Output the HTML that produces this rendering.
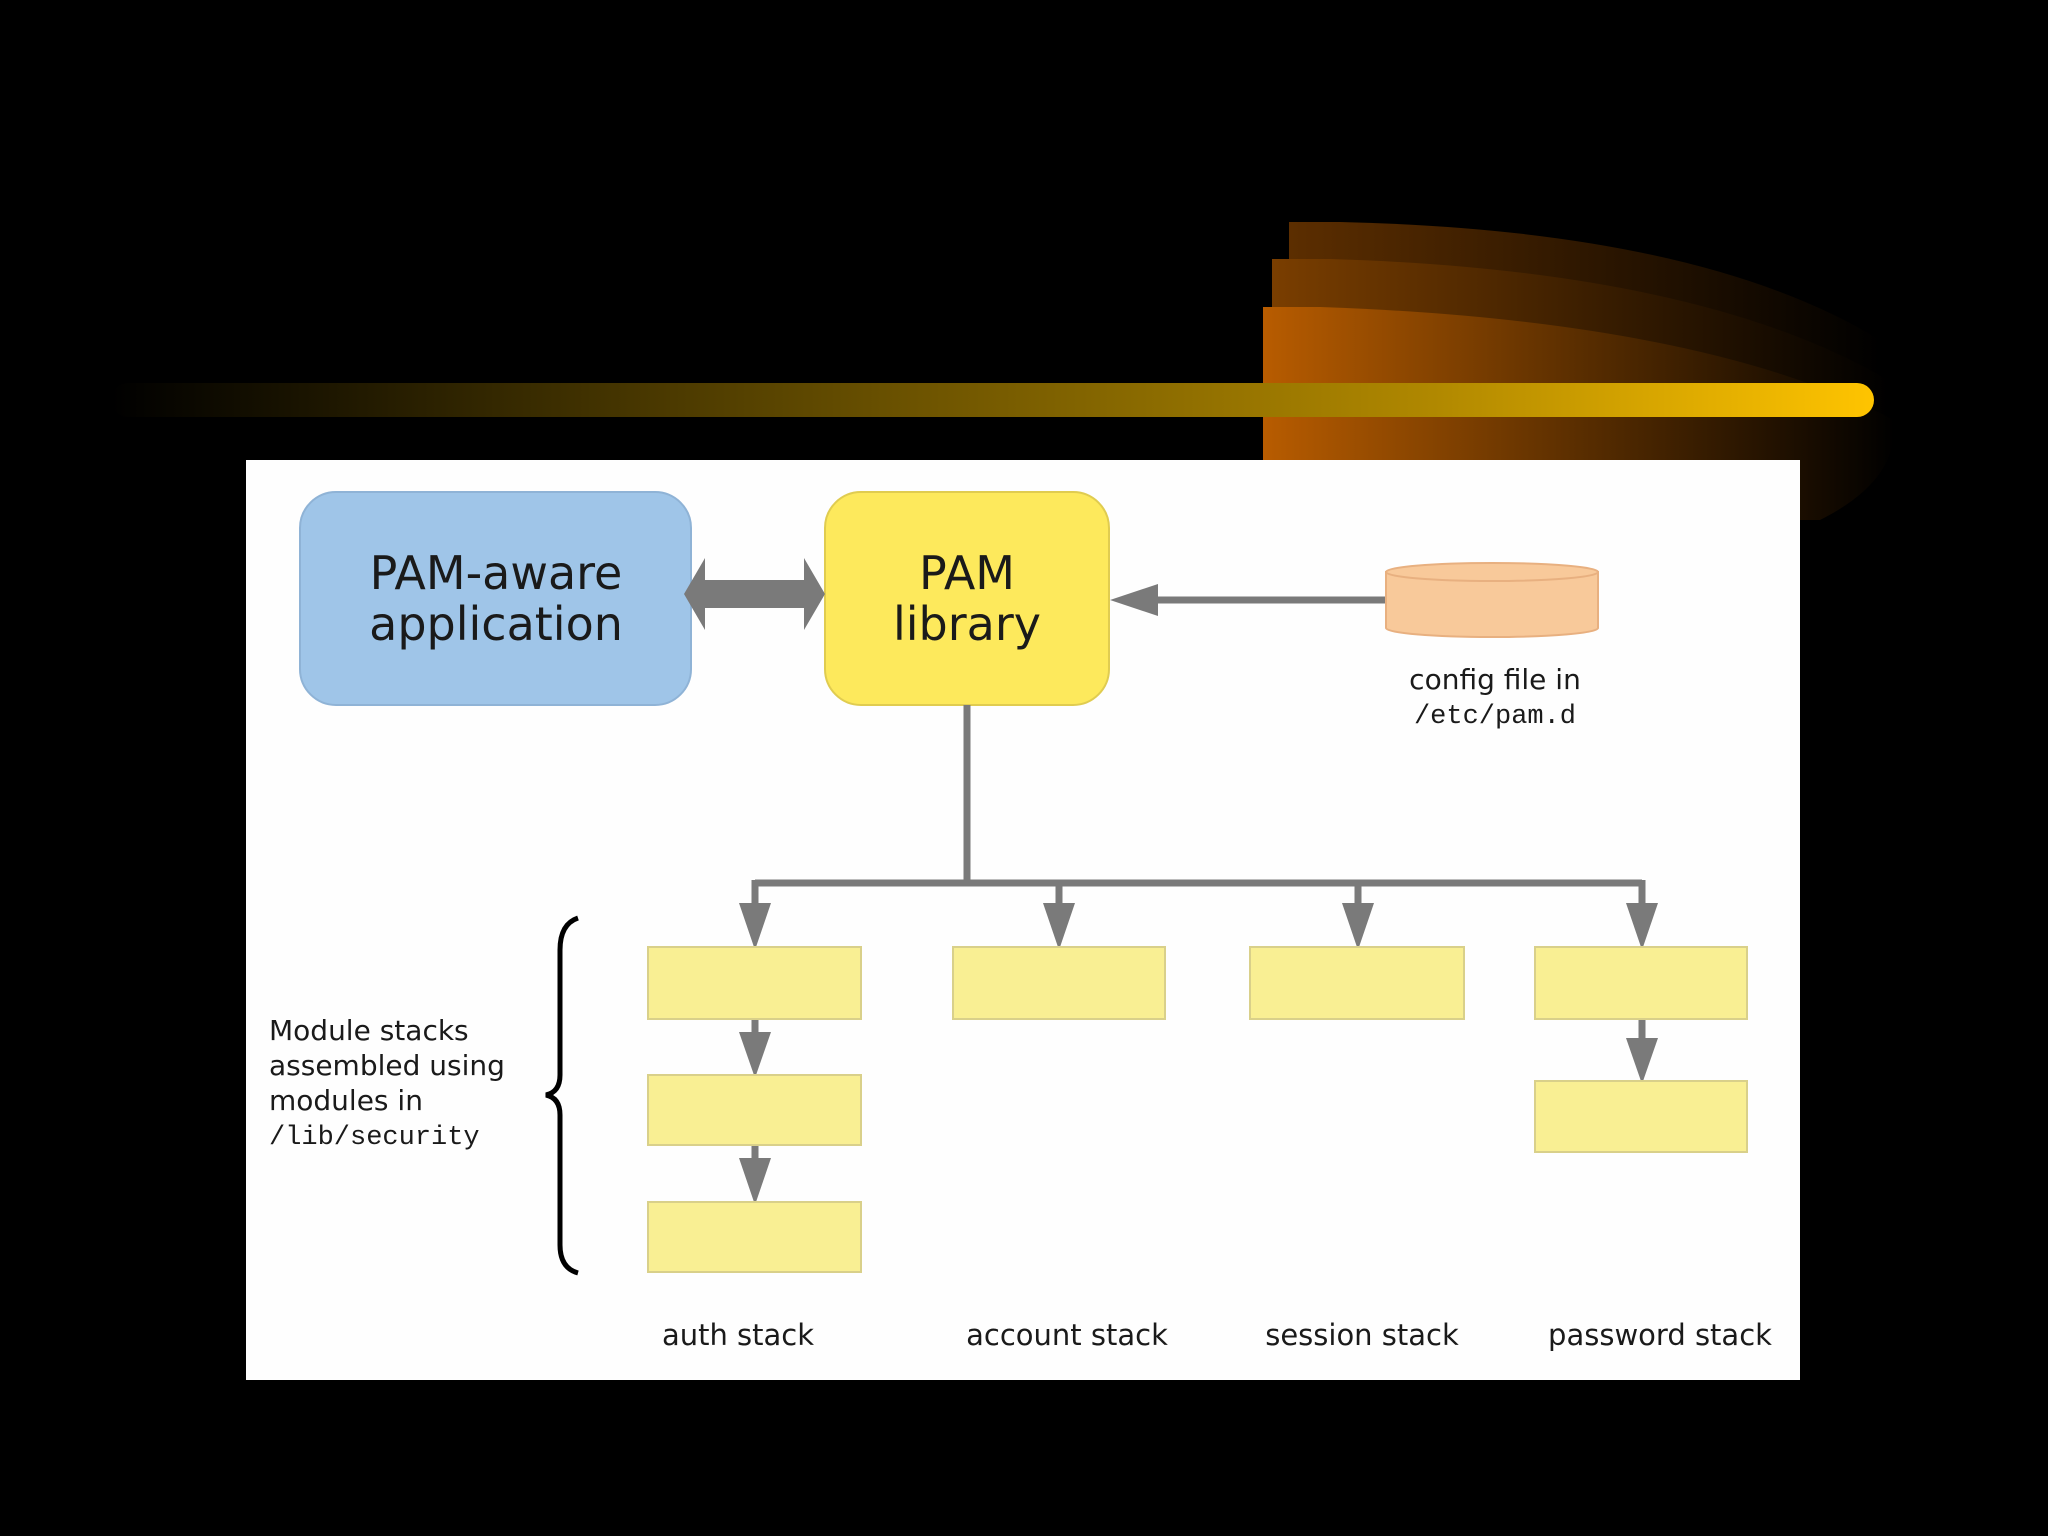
<!DOCTYPE html>
<html><head><meta charset="utf-8"><style>
html,body{margin:0;padding:0;background:#000;}
svg{display:block;}
text{font-family:"DejaVu Sans","Liberation Sans",sans-serif;fill:#1a1a1a;}
.m{font-family:"Liberation Mono","DejaVu Sans Mono",monospace;}
</style></head><body>
<svg width="2048" height="1536" viewBox="0 0 2048 1536" xmlns="http://www.w3.org/2000/svg">
<defs>
<linearGradient id="og" x1="0" x2="1" y1="0" y2="0">
<stop offset="0" stop-color="#b85c00"/><stop offset="0.5" stop-color="#5a2e00"/><stop offset="1" stop-color="#000"/>
</linearGradient>
<linearGradient id="og2" x1="0" x2="1"><stop offset="0" stop-color="#7a3e00"/><stop offset="1" stop-color="#000"/></linearGradient>
<linearGradient id="og3" x1="0" x2="1"><stop offset="0" stop-color="#5c2e00"/><stop offset="1" stop-color="#000"/></linearGradient>
<linearGradient id="bar" x1="0" x2="1">
<stop offset="0" stop-color="#000"/><stop offset="0.45" stop-color="#6b5200"/><stop offset="0.75" stop-color="#b08800"/><stop offset="1" stop-color="#ffc400"/>
</linearGradient>
</defs>
<rect width="2048" height="1536" fill="#000"/>
<path d="M1289 222 L1340 222 Q1700 230 1880 340 L1880 420 L1289 420 Z" fill="url(#og3)"/>
<path d="M1272 259 L1330 259 Q1700 270 1888 380 L1888 450 L1272 450 Z" fill="url(#og2)"/>
<path d="M1263 307 L1320 307 Q1700 320 1894 420 Q1900 480 1820 520 L1263 520 Z" fill="url(#og)"/>
<rect x="111" y="383" width="1763" height="34" rx="17" fill="url(#bar)"/>
<rect x="246" y="460" width="1554" height="920" fill="#fefefe"/>
<!-- boxes -->
<rect x="300" y="492" width="391" height="213" rx="36" fill="#9fc5e8" stroke="#8fb3d6" stroke-width="2"/>
<text x="496" y="589" font-size="46" text-anchor="middle">PAM-aware</text>
<text x="496" y="640" font-size="46" text-anchor="middle">application</text>
<rect x="825" y="492" width="284" height="213" rx="36" fill="#fde95c" stroke="#e0cc50" stroke-width="2"/>
<text x="967" y="589" font-size="46" text-anchor="middle">PAM</text>
<text x="967" y="640" font-size="46" text-anchor="middle">library</text>
<!-- double arrow -->
<path d="M684 594 L705 558 L705 580 L804 580 L804 558 L825 594 L804 630 L804 608 L705 608 L705 630 Z" fill="#7a7a7a"/>
<!-- config arrow -->
<line x1="1391" y1="600" x2="1150" y2="600" stroke="#7a7a7a" stroke-width="7"/>
<path d="M1110 600 L1158 584 L1158 616 Z" fill="#7a7a7a"/>
<!-- cylinder -->
<path d="M1386 572 L1386 628 A106 9 0 0 0 1598 628 L1598 572 Z" fill="#f8c99a" stroke="#e8b080" stroke-width="2"/>
<ellipse cx="1492" cy="572" rx="106" ry="9" fill="#f8c99a" stroke="#e8b080" stroke-width="2"/>
<text x="1495" y="689" font-size="28" text-anchor="middle">config file in</text>
<text x="1495" y="723" font-size="27" text-anchor="middle" class="m">/etc/pam.d</text>
<!-- tree -->
<g stroke="#7a7a7a" stroke-width="7" fill="none">
<line x1="967" y1="705" x2="967" y2="883"/>
<line x1="755" y1="883" x2="1642" y2="883"/>
<line x1="755" y1="880" x2="755" y2="910"/>
<line x1="1059" y1="880" x2="1059" y2="910"/>
<line x1="1358" y1="880" x2="1358" y2="910"/>
<line x1="1642" y1="880" x2="1642" y2="910"/>
<line x1="755" y1="1019" x2="755" y2="1040"/>
<line x1="755" y1="1145" x2="755" y2="1166"/>
<line x1="1642" y1="1019" x2="1642" y2="1045"/>
</g>
<g fill="#7a7a7a">
<path d="M739 903 L771 903 L755 950 Z"/>
<path d="M1043 903 L1075 903 L1059 950 Z"/>
<path d="M1342 903 L1374 903 L1358 950 Z"/>
<path d="M1626 903 L1658 903 L1642 950 Z"/>
<path d="M739 1032 L771 1032 L755 1078 Z"/>
<path d="M739 1158 L771 1158 L755 1205 Z"/>
<path d="M1626 1038 L1658 1038 L1642 1084 Z"/>
</g>
<g fill="#f9ef93" stroke="#d9d08a" stroke-width="2">
<rect x="648" y="947" width="213" height="72"/>
<rect x="648" y="1075" width="213" height="70"/>
<rect x="648" y="1202" width="213" height="70"/>
<rect x="953" y="947" width="212" height="72"/>
<rect x="1250" y="947" width="214" height="72"/>
<rect x="1535" y="947" width="212" height="72"/>
<rect x="1535" y="1081" width="212" height="71"/>
</g>
<!-- brace -->
<path d="M578 918 Q560 924 560 950 L560 1075 Q560 1092 546 1095 Q560 1098 560 1115 L560 1245 Q560 1268 578 1273" stroke="#000" stroke-width="5" fill="none"/>
<text x="269" y="1040" font-size="28">Module stacks</text>
<text x="269" y="1075" font-size="28">assembled using</text>
<text x="269" y="1110" font-size="28">modules in</text>
<text x="269" y="1144" font-size="27" class="m">/lib/security</text>
<text x="738" y="1345" font-size="29" text-anchor="middle">auth stack</text>
<text x="1067" y="1345" font-size="29" text-anchor="middle">account stack</text>
<text x="1362" y="1345" font-size="29" text-anchor="middle">session stack</text>
<text x="1660" y="1345" font-size="29" text-anchor="middle">password stack</text>
</svg>
</body></html>
